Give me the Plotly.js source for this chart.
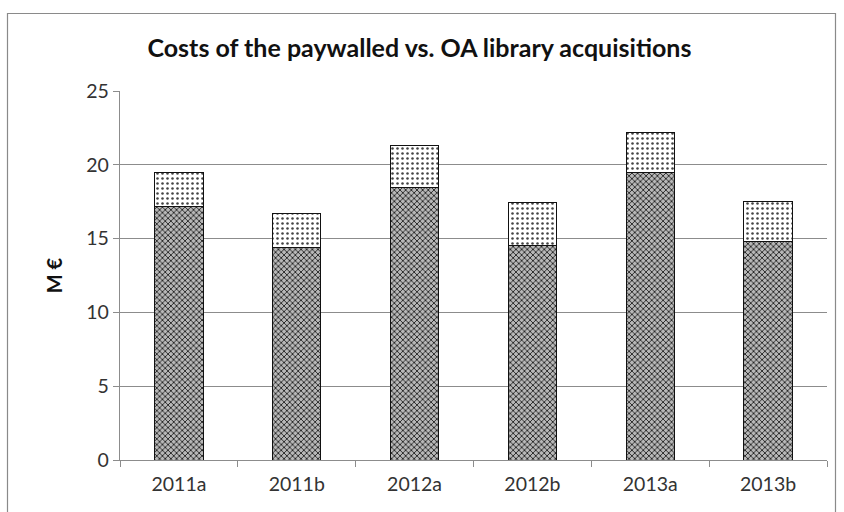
<!DOCTYPE html>
<html>
<head>
<meta charset="utf-8">
<script src="https://cdn.plot.ly/plotly-3.0.1.min.js"></script>
<style>
html,body{margin:0;padding:0;background:#fff;}
#chart{width:844px;height:512px;}
</style>
</head>
<body>
<div id="chart"></div>
<script>
const categories = ["2011a", "2011b", "2012a", "2012b", "2013a", "2013b"];
const paywalled = [17.2, 14.4, 18.45, 14.5, 19.45, 14.8];
const totals = [19.45, 16.72, 21.28, 17.46, 22.18, 17.52];
const oa = totals.map((t, i) => +(t - paywalled[i]).toFixed(2));
const yTicks = [0, 5, 10, 15, 20, 25];

const traces = [
  {
    type: "bar", name: "Paywalled", x: categories, y: paywalled,
    marker: {
      color: "#ffffff",
      line: {color: "#111111", width: 1},
      pattern: {shape: "x", fgcolor: "#222222", bgcolor: "#b8b8b8", size: 4, solidity: 0.4}
    },
    width: 0.41, hoverinfo: "skip"
  },
  {
    type: "bar", name: "OA", x: categories, y: oa,
    marker: {
      color: "#ffffff",
      line: {color: "#111111", width: 1},
      pattern: {shape: ".", fgcolor: "#444444", bgcolor: "#ffffff", size: 5, solidity: 0.2}
    },
    width: 0.41, hoverinfo: "skip"
  }
];

const L = 120, R = 17, T = 91, B = 52, W = 844, H = 512;
const pw = W - L - R, ph = H - T - B;
const px = v => (v - L) / pw;
const py = v => (H - B - v) / ph;

const layout = {
  width: W, height: H,
  margin: {l: L, r: R, t: T, b: B},
  barmode: "stack",
  showlegend: false,
  paper_bgcolor: "#ffffff",
  plot_bgcolor: "#ffffff",
  font: {family: "Lato, 'Open Sans', sans-serif", color: "#333333"},
  title: {
    text: "<b>Costs of the paywalled vs. OA library acquisitions</b>",
    font: {size: 25, color: "#111111", family: "Lato, 'Open Sans', sans-serif"},
    x: 0.497, xanchor: "center", y: 0.905, yanchor: "middle"
  },
  xaxis: {
    type: "category",
    showline: true, linecolor: "#8c8c8c", linewidth: 1.2,
    ticks: "outside", tickson: "boundaries", ticklen: 6, tickcolor: "#8c8c8c",
    ticklabelstandoff: 6,
    tickfont: {size: 19.5, color: "#333333"},
    showgrid: false, zeroline: false, fixedrange: true
  },
  yaxis: {
    range: [0, 25], tickvals: yTicks, ticktext: yTicks.map(String),
    showline: true, linecolor: "#8c8c8c", linewidth: 1.2,
    ticks: "outside", ticklen: 6, tickcolor: "#8c8c8c",
    tickfont: {size: 19.5, color: "#333333"},
    showgrid: true, gridcolor: "#8c8c8c", gridwidth: 1.2,
    zeroline: false, fixedrange: true,
    title: {text: "<b>M €</b>", font: {size: 20, color: "#111111"}, standoff: 18}
  },
  shapes: [
    {type: "rect", xref: "paper", yref: "paper",
     x0: px(7.5), x1: px(835.5), y0: py(530), y1: py(13.5),
     line: {color: "#8a8a8a", width: 1.2}, fillcolor: "rgba(0,0,0,0)", layer: "below"}
  ]
};

Plotly.newPlot("chart", traces, layout, {displayModeBar: false, staticPlot: true});
</script>
</body>
</html>
